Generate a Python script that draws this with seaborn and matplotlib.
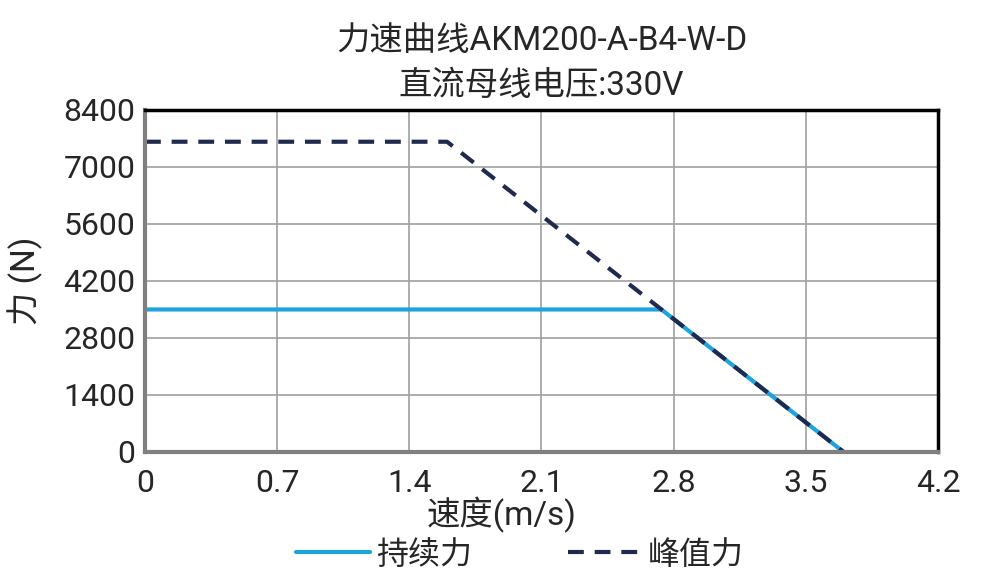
import matplotlib
matplotlib.use('Agg')
import matplotlib.pyplot as plt
import seaborn as sns
import pandas as pd

# 速度 (m/s) / 力 (N)
cont_speed = [0, 2.735, 3.7]
cont_force = [3500, 3500, 0]
peak_speed = [0, 1.6, 3.7]
peak_force = [7620, 7620, 0]

x_ticks = [0, 0.7, 1.4, 2.1, 2.8, 3.5, 4.2]
y_ticks = [0, 1400, 2800, 4200, 5600, 7000, 8400]

sns.set_style('white')
plt.rcParams['font.family'] = ['Roboto', 'Noto Sans CJK SC', 'DejaVu Sans']

df_cont = pd.DataFrame({'speed': cont_speed, 'force': cont_force})
df_peak = pd.DataFrame({'speed': peak_speed, 'force': peak_force})

fig = plt.figure(figsize=(9.91, 5.85), dpi=100)
ax = fig.add_axes([0.1463, 0.2274, 0.8002, 0.5846])

sns.lineplot(x='speed', y='force', data=df_cont, color='#1fa3dc', lw=3,
             label='持续力', ax=ax, sort=False)
sns.lineplot(x='speed', y='force', data=df_peak, color='#1f2a4f', lw=3,
             ls=(0, (3.8, 2.6)), label='峰值力', ax=ax, sort=False)

ax.set_xlim(0, 4.2)
ax.set_ylim(0, 8400)
ax.set_xticks(x_ticks)
ax.set_xticklabels([str(t) for t in x_ticks])
ax.set_yticks(y_ticks)
ax.grid(True, color='#a0a0a0', lw=1.2)
ax.tick_params(labelsize=23, length=0)
ax.tick_params(axis='x', pad=12)
ax.tick_params(axis='y', pad=7)
for lab in ax.get_yticklabels():
    lab.set_va('center_baseline')

ax.spines['left'].set_color('#808080')
ax.spines['bottom'].set_color('#808080')
ax.spines['left'].set_linewidth(3)
ax.spines['bottom'].set_linewidth(3)
ax.spines['top'].set_color('black')
ax.spines['right'].set_color('black')
ax.spines['top'].set_linewidth(2.5)
ax.spines['right'].set_linewidth(2.5)

ax.set_xlabel('速度(m/s)', fontsize=24)
ax.xaxis.set_label_coords(0.449, -0.13)
ax.set_ylabel('力 (N)', fontsize=24)
ax.yaxis.set_label_coords(-0.128, 0.5)
ax.set_title('力速曲线AKM200-A-B4-W-D\n直流母线电压:330V', fontsize=24,
             pad=11, linespacing=1.5)

ax.legend(loc='center', bbox_to_anchor=(0.473, -0.3), ncol=2,
          frameon=False, fontsize=23, handlelength=2.3, columnspacing=3.0,
          handletextpad=0.2)

fig.savefig('out.png', dpi=100)
